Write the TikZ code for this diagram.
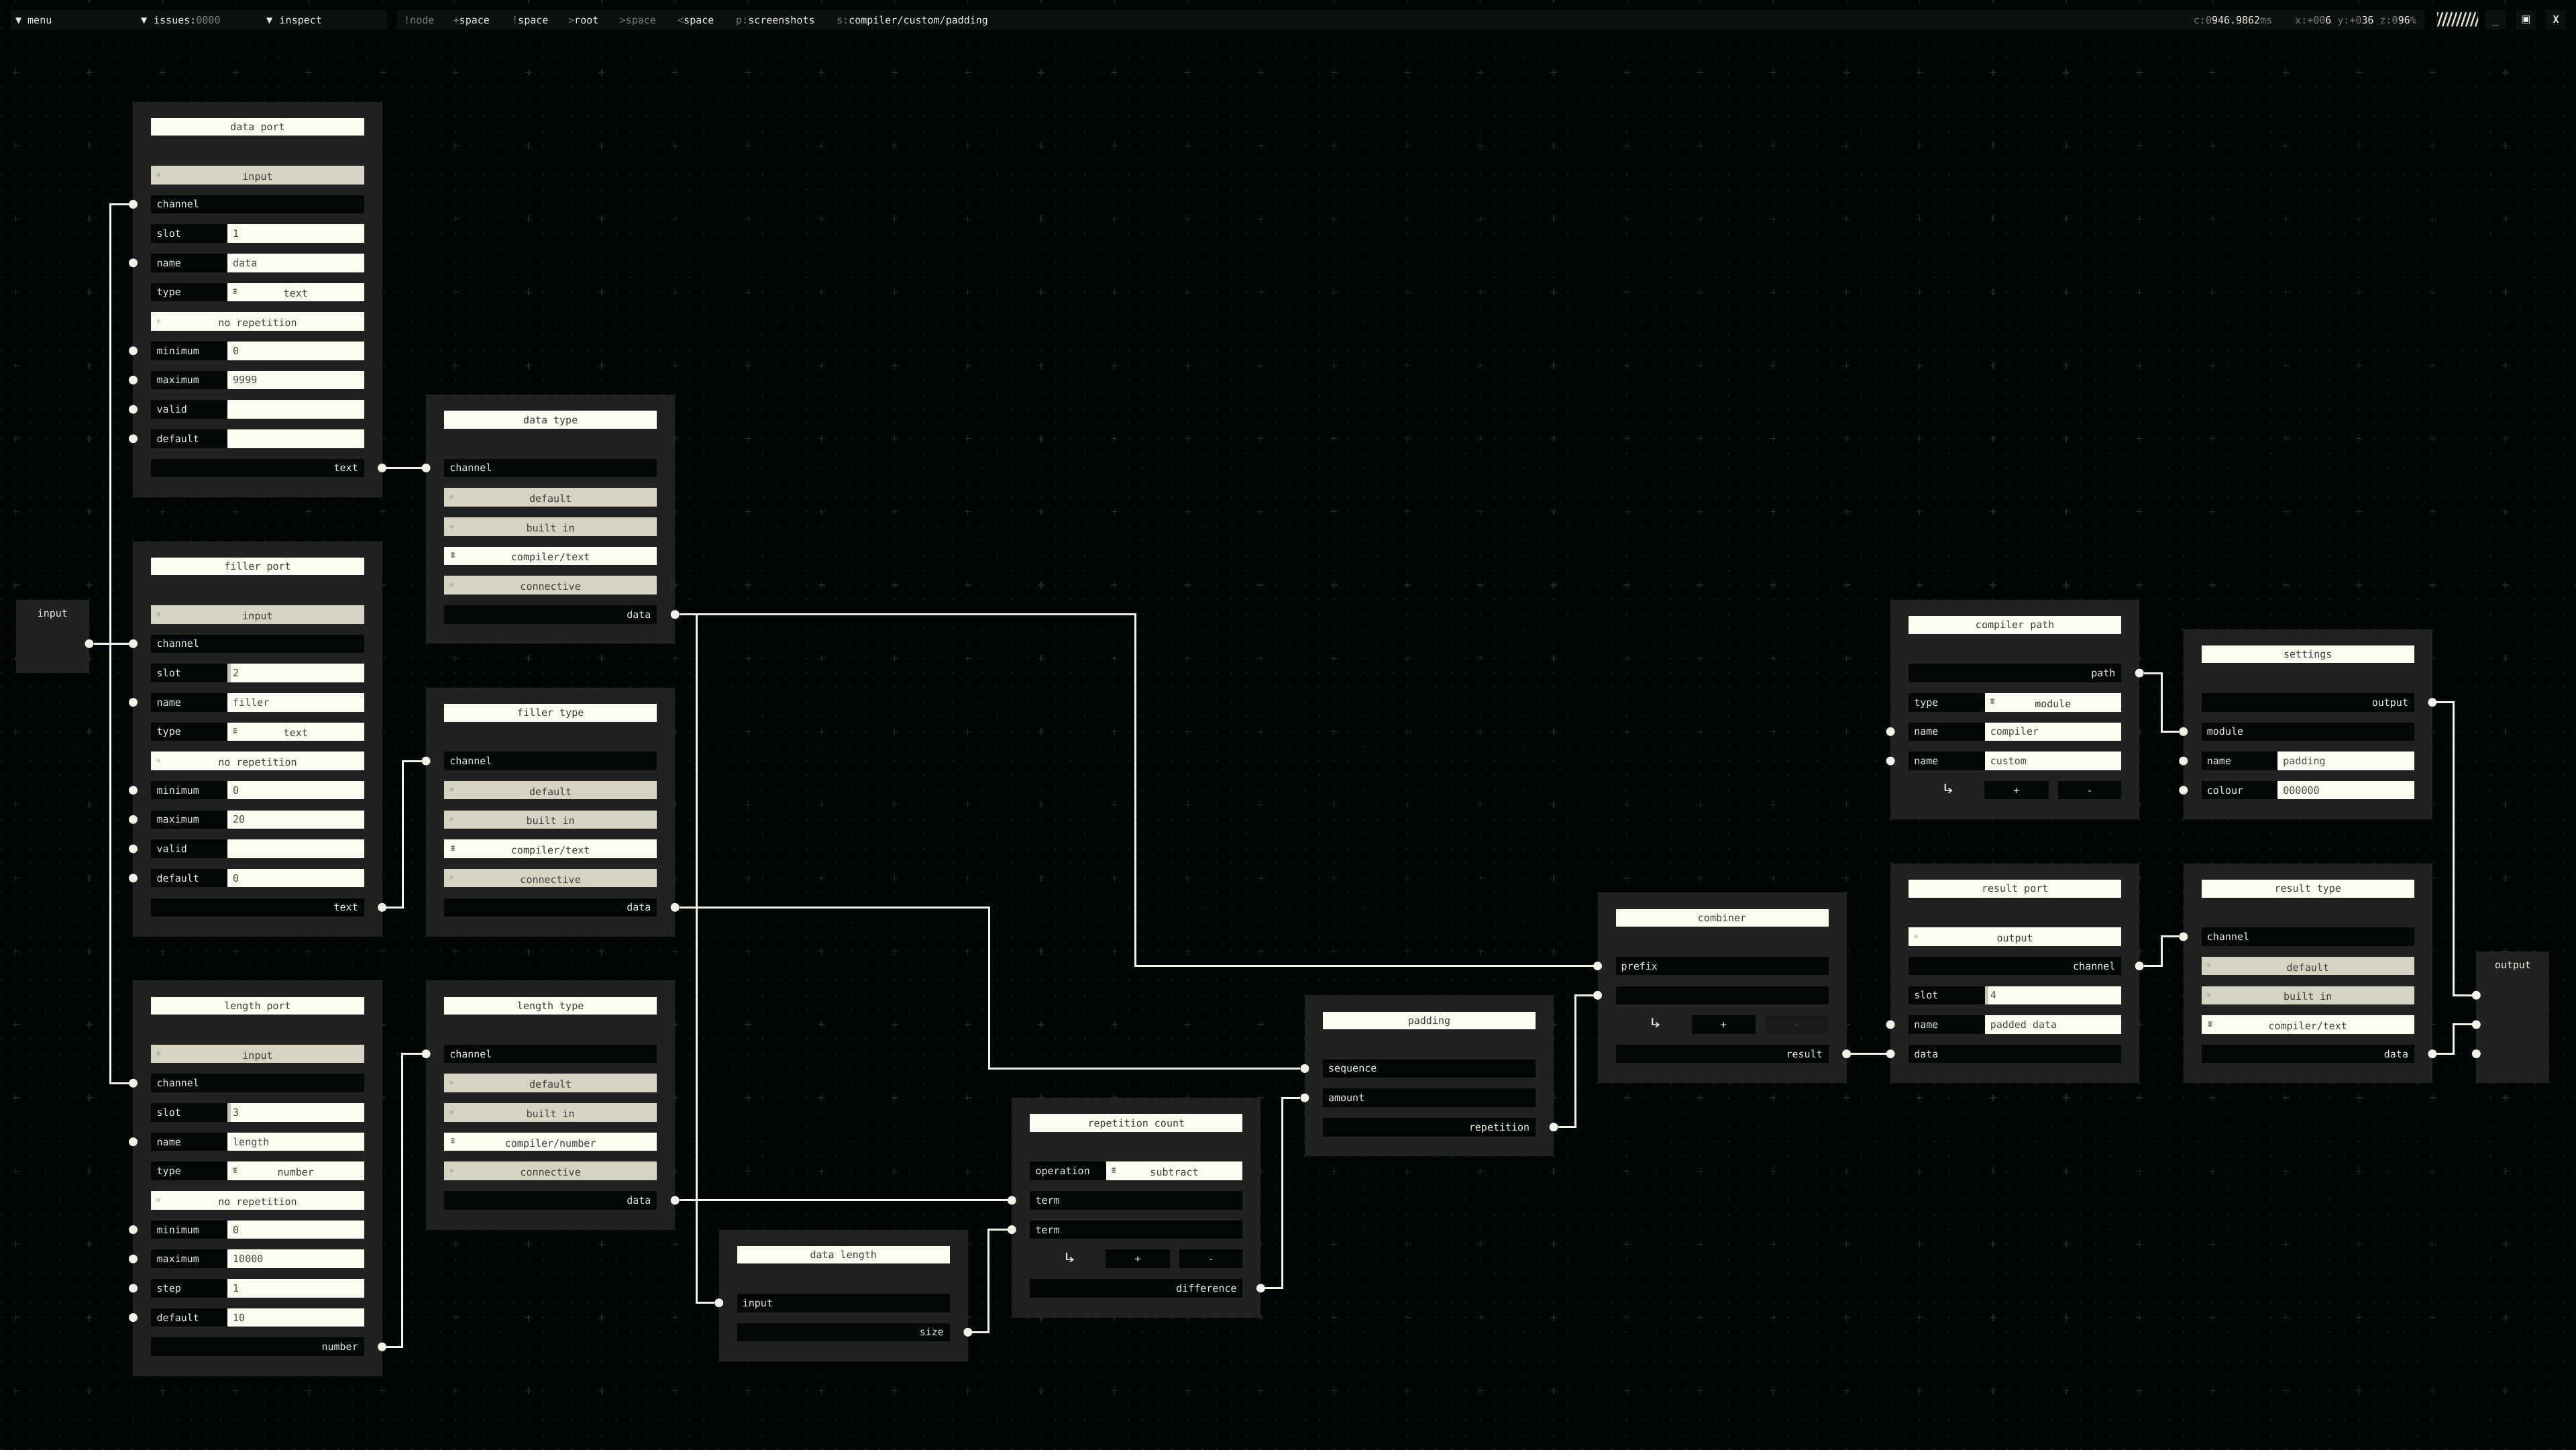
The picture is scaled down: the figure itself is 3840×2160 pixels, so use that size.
\documentclass[tikz,border=0pt]{standalone}
\usepackage{fontspec}
\newfontfamily\monofont{DejaVu Sans Mono}
\newfontfamily\symfont{DejaVu Sans}
\definecolor{bgc}{HTML}{030606}
\definecolor{barc}{HTML}{0C1010}
\definecolor{nodebg}{HTML}{212121}
\definecolor{darkrow}{HTML}{040707}
\definecolor{cream}{HTML}{FDFCF1}
\definecolor{beige}{HTML}{D6D3C3}
\definecolor{titlec}{HTML}{3C3C3C}
\definecolor{valc}{HTML}{4A4A4A}
\definecolor{lblc}{HTML}{ECEBE0}
\definecolor{wirec}{HTML}{F3F2E6}
\definecolor{gridsmall}{HTML}{1A1E1C}
\definecolor{gridbig}{HTML}{2A2921}
\definecolor{barg}{HTML}{7D7D75}
\definecolor{iconc}{HTML}{74746C}
\definecolor{disbtn}{HTML}{1A1A1A}
\definecolor{distext}{HTML}{5A5A5A}
\definecolor{stripc}{HTML}{C8C6B8}
\definecolor{hatchc}{HTML}{E6E5DA}
\newcommand\myfs{\fontsize{15}{18}\selectfont}
\tikzset{
 x=1pt, y=-1pt,
 mono/.style={font=\monofont\myfs},
 nodebox/.style={fill=nodebg, inner sep=0pt, outer sep=0pt, draw=none},
 rowrect/.style={inner sep=0pt, outer sep=0pt, draw=none, minimum height=27.6pt},
 lbl/.style={mono, text=lblc, inner sep=0pt},
 val/.style={mono, text=valc, inner sep=0pt},
 ttx/.style={mono, text=titlec, inner sep=0pt},
 sunicon/.style={inner sep=0pt, font=\symfont\fontsize{9}{10}\selectfont, text=iconc},
 eqicon/.style={inner sep=0pt, font=\symfont\fontsize{9}{10}\selectfont, text=titlec},
 arrowicon/.style={inner sep=0pt, font=\symfont\fontsize{15}{16}\selectfont, text=lblc},
 dot/.style={circle, fill=wirec, minimum size=13pt, inner sep=0pt, outer sep=0pt},
 wire/.style={draw=wirec, line width=3pt},
 barseg/.style={fill=barc, inner sep=0pt, outer sep=0pt, minimum height=29pt, anchor=north west},
 bartxt/.style={mono, text=lblc, inner sep=0pt, anchor=base west},
 tri/.style={inner sep=0pt, font=\symfont\fontsize{12}{13}\selectfont, text=lblc, anchor=base west},
}
\newcommand\eqglyph{\resizebox{7pt}{8.5pt}{≡}}
\newcommand\arglyph{\resizebox{21pt}{14pt}{↳}}
\newcommand\rowcy[1]{\pgfmathsetmacro\rcy{109.2+43.66*#1}\pgfmathsetmacro\rcyb{\rcy+5.5}\pgfmathsetmacro\rcyt{\rcy+7.5}}
\newcommand\mkbox[2]{\pgfmathsetmacro\hh{#2*21.83}%
 \node[nodebox, minimum width=371.1pt, minimum height=\hh pt, anchor=north west] (#1) at (0,0) {};}
\newcommand\mktitle[2]{%
 \node[rowrect, fill=cream, minimum width=317.1pt, minimum height=26.5pt] (#1-title) at (185.55,37.5) {};
 \node[ttx, anchor=base] (#1-titletext) at (185.55,43) {#2};}
\newcommand\rin[3]{\rowcy{#2}%
 \node[rowrect, fill=darkrow, minimum width=317.1pt, anchor=west] (#1-r#2) at (27,\rcy) {};
 \node[lbl, anchor=base west] (#1-r#2-t) at (35,\rcyb) {#3};}
\newcommand\rout[3]{\rowcy{#2}%
 \node[rowrect, fill=darkrow, minimum width=317.1pt, anchor=west] (#1-r#2) at (27,\rcy) {};
 \node[lbl, anchor=base east] (#1-r#2-t) at (335.5,\rcyb) {#3};}
\newcommand\rlv[4]{\rowcy{#2}%
 \node[rowrect, fill=darkrow, minimum width=113.5pt, anchor=west] (#1-r#2) at (27,\rcy) {};
 \node[lbl, anchor=base west] (#1-r#2-t) at (35,\rcyb) {#3};
 \node[rowrect, fill=cream, minimum width=203.6pt, anchor=west] (#1-r#2-v) at (140.5,\rcy) {};
 \node[val, anchor=base west] (#1-r#2-vt) at (148.5,\rcyb) {#4};}
\newcommand\rld[4]{\rowcy{#2}%
 \node[rowrect, fill=darkrow, minimum width=113.5pt, anchor=west] (#1-r#2) at (27,\rcy) {};
 \node[lbl, anchor=base west] (#1-r#2-t) at (35,\rcyb) {#3};
 \node[rowrect, fill=cream, minimum width=203.6pt, anchor=west] (#1-r#2-v) at (140.5,\rcy) {};
 \node[eqicon] (#1-r#2-i) at (152,\rcy) {\eqglyph};
 \node[ttx, anchor=base] (#1-r#2-vt) at (242.3,\rcyt) {#4};}
\newcommand\rtog[4]{\rowcy{#2}%
 \node[rowrect, fill=#4, minimum width=317.1pt, anchor=west] (#1-r#2) at (27,\rcy) {};
 \node[sunicon] (#1-r#2-i) at (38,\rcy) {☼};
 \node[ttx, anchor=base] (#1-r#2-t) at (185.55,\rcyt) {#3};}
\newcommand\rdrop[3]{\rowcy{#2}%
 \node[rowrect, fill=cream, minimum width=317.1pt, anchor=west] (#1-r#2) at (27,\rcy) {};
 \node[eqicon] (#1-r#2-i) at (40,\rcy) {\eqglyph};
 \node[ttx, anchor=base] (#1-r#2-t) at (185.55,\rcyt) {#3};}
\newcommand\rpm[3]{\rowcy{#2}%
 \node[arrowicon] (#1-r#2-i) at (86,\rcy-2) {\arglyph};
 \node[rowrect, fill=darkrow, minimum width=95.5pt, anchor=west] (#1-r#2-p) at (140,\rcy) {};
 \node[lbl, anchor=base] (#1-r#2-pt) at (187.75,\rcyb) {+};
 \ifnum#3=1
  \node[rowrect, fill=darkrow, minimum width=94.1pt, anchor=west] (#1-r#2-m) at (250,\rcy) {};
  \node[lbl, anchor=base] (#1-r#2-mt) at (297,\rcyb) {-};
 \else
  \node[rowrect, fill=disbtn, minimum width=94.1pt, anchor=west] (#1-r#2-m) at (250,\rcy) {};
  \node[mono, text=distext, inner sep=0pt, anchor=base] (#1-r#2-mt) at (297,\rcyb) {-};
 \fi}
\newcommand\slotstrip[2]{\rowcy{#2}%
 \node[rowrect, fill=stripc, minimum width=5pt, anchor=west] (#1-r#2-s) at (140.5,\rcy) {};}
\newcommand\din[2]{\rowcy{#2}\node[dot] (#1-r#2-in) at (0,\rcy) {};}
\newcommand\dout[2]{\rowcy{#2}\node[dot] (#1-r#2-out) at (371.1,\rcy) {};}
\begin{document}
\begin{tikzpicture}
\useasboundingbox (0,0) rectangle (3840,2160);
\fill[bgc] (-10,-10) rectangle (3850,2170);
% grid
\foreach \j in {1,...,99}{\pgfmathsetmacro\yy{-1.2+21.83*\j}
 \draw[gridsmall, line width=1pt, dash pattern=on 3pt off 18.83pt] (0.52,\yy) -- (3840,\yy);}
\foreach \i in {0,...,175}{\pgfmathsetmacro\xx{2.02+21.83*\i}
 \draw[gridsmall, line width=1pt, dash pattern=on 3pt off 18.83pt] (\xx,19.13) -- (\xx,2160);}
\foreach \i in {0,...,35}{\foreach \j in {0,...,19}{
 \pgfmathsetmacro\xx{23.85+109.15*\i}\pgfmathsetmacro\yy{-1.2+109.15*\j}
 \draw[gridbig, line width=1.2pt] (\xx-5,\yy) -- (\xx+5,\yy) (\xx,\yy-5) -- (\xx,\yy+5);}}
% top bar
\node[barseg, minimum width=561.4pt] (barL) at (15.6,15) {};
\node[barseg, minimum width=3022pt] (barR) at (592,15) {};
\node[barseg, minimum width=65pt] (bhatch) at (3631,15) {};
\node[barseg, minimum width=30pt] (bmin) at (3705,15) {};
\node[barseg, minimum width=30pt] (bmax) at (3750,15) {};
\node[barseg, minimum width=30pt] (bclose) at (3795,15) {};
\begin{scope}
\clip (3633,18.3) rectangle (3694,39.3);
\foreach \i in {0,...,10}{\draw[hatchc, line width=2.3pt] (3627+7*\i,39.3) -- (3634+7*\i,18.3);}
\end{scope}
\node[tri] (t1) at (23,34.5) {▼};
\node[bartxt] (t1t) at (41,35) {menu};
\node[tri] (t2) at (210,34.5) {▼};
\node[bartxt] (t2t) at (229,35) {issues:{\color{barg}0000}};
\node[tri] (t3) at (397,34.5) {▼};
\node[bartxt] (t3t) at (416.5,35) {inspect};
\node[bartxt] (b1) at (602,35) {{\color{barg}!node}};
\node[bartxt] (b2) at (675.5,35) {{\color{barg}+}space};
\node[bartxt] (b3) at (763,35) {{\color{barg}!}space};
\node[bartxt] (b4) at (847,35) {{\color{barg}>}root};
\node[bartxt] (b5) at (923.5,35) {{\color{barg}>space}};
\node[bartxt] (b6) at (1010,35) {{\color{barg}<}space};
\node[bartxt] (b7) at (1097,35) {{\color{barg}p:}screenshots};
\node[bartxt] (b8) at (1247,35) {{\color{barg}s:}compiler/custom/padding};
\node[bartxt] (b9) at (3269.7,35) {{\color{barg}c:0}946.9862{\color{barg}ms}};
\node[bartxt] (b10) at (3421,35) {{\color{barg}x:+00}6 {\color{barg}y:+0}36 {\color{barg}z:0}96{\color{barg}\%}};
\node[mono, text=lblc, inner sep=0pt] (bmint) at (3720,36) {\_};
\node[inner sep=0pt, font=\symfont\fontsize{15}{16}\selectfont, text=lblc] (bmaxt) at (3765.5,30) {▣};
\node[inner sep=0pt, font=\monofont\bfseries\fontsize{15}{16}\selectfont, text=lblc] (bcloset) at (3810,29.5) {X};
% input node
\begin{scope}[shift={(23.85,893.83)}]
 \node[nodebox, minimum width=109.15pt, minimum height=109.15pt, anchor=north west] (inp) at (0,0) {};
 \node[lbl, anchor=base] (inp-t) at (54.6,26) {input};
 \node[dot] (inp-out) at (109.15,65.5) {};
\end{scope}
% output node
\begin{scope}[shift={(3691.29,1417.75)}]
 \node[nodebox, minimum width=109.15pt, minimum height=196.47pt, anchor=north west] (outp) at (0,0) {};
 \node[lbl, anchor=base] (outp-t) at (54.6,26) {output};
 \node[dot] (outp-d1) at (0,65.5) {};
 \node[dot] (outp-d2) at (0,109.2) {};
 \node[dot] (outp-d3) at (0,152.8) {};
\end{scope}
% data port
\begin{scope}[shift={(23.85+21.83*8,-1.2+21.83*7)}]
 \mkbox{dp}{27}\mktitle{dp}{data port}
 \rtog{dp}{0}{input}{beige}
 \rin{dp}{1}{channel}
 \rlv{dp}{2}{slot}{1}
 \rlv{dp}{3}{name}{data}
 \rld{dp}{4}{type}{text}
 \rtog{dp}{5}{no repetition}{cream}
 \rlv{dp}{6}{minimum}{0}
 \rlv{dp}{7}{maximum}{9999}
 \rlv{dp}{8}{valid}{}
 \rlv{dp}{9}{default}{}
 \rout{dp}{10}{text}
 \din{dp}{1}\din{dp}{3}\din{dp}{6}\din{dp}{7}\din{dp}{8}\din{dp}{9}\dout{dp}{10}
\end{scope}
% filler port
\begin{scope}[shift={(23.85+21.83*8,-1.2+21.83*37)}]
 \mkbox{fp}{27}\mktitle{fp}{filler port}
 \rtog{fp}{0}{input}{beige}
 \rin{fp}{1}{channel}
 \rlv{fp}{2}{slot}{2}\slotstrip{fp}{2}
 \rlv{fp}{3}{name}{filler}
 \rld{fp}{4}{type}{text}
 \rtog{fp}{5}{no repetition}{cream}
 \rlv{fp}{6}{minimum}{0}
 \rlv{fp}{7}{maximum}{20}
 \rlv{fp}{8}{valid}{}
 \rlv{fp}{9}{default}{0}
 \rout{fp}{10}{text}
 \din{fp}{1}\din{fp}{3}\din{fp}{6}\din{fp}{7}\din{fp}{8}\din{fp}{9}\dout{fp}{10}
\end{scope}
% length port
\begin{scope}[shift={(23.85+21.83*8,-1.2+21.83*67)}]
 \mkbox{lp}{27}\mktitle{lp}{length port}
 \rtog{lp}{0}{input}{beige}
 \rin{lp}{1}{channel}
 \rlv{lp}{2}{slot}{3}\slotstrip{lp}{2}
 \rlv{lp}{3}{name}{length}
 \rld{lp}{4}{type}{number}
 \rtog{lp}{5}{no repetition}{cream}
 \rlv{lp}{6}{minimum}{0}
 \rlv{lp}{7}{maximum}{10000}
 \rlv{lp}{8}{step}{1}
 \rlv{lp}{9}{default}{10}
 \rout{lp}{10}{number}
 \din{lp}{1}\din{lp}{3}\din{lp}{6}\din{lp}{7}\din{lp}{8}\din{lp}{9}\dout{lp}{10}
\end{scope}
% data type
\begin{scope}[shift={(23.85+21.83*28,-1.2+21.83*27)}]
 \mkbox{dt}{17}\mktitle{dt}{data type}
 \rin{dt}{0}{channel}
 \rtog{dt}{1}{default}{beige}
 \rtog{dt}{2}{built in}{beige}
 \rdrop{dt}{3}{compiler/text}
 \rtog{dt}{4}{connective}{beige}
 \rout{dt}{5}{data}
 \din{dt}{0}\dout{dt}{5}
\end{scope}
% filler type
\begin{scope}[shift={(23.85+21.83*28,-1.2+21.83*47)}]
 \mkbox{ft}{17}\mktitle{ft}{filler type}
 \rin{ft}{0}{channel}
 \rtog{ft}{1}{default}{beige}
 \rtog{ft}{2}{built in}{beige}
 \rdrop{ft}{3}{compiler/text}
 \rtog{ft}{4}{connective}{beige}
 \rout{ft}{5}{data}
 \din{ft}{0}\dout{ft}{5}
\end{scope}
% length type
\begin{scope}[shift={(23.85+21.83*28,-1.2+21.83*67)}]
 \mkbox{lt}{17}\mktitle{lt}{length type}
 \rin{lt}{0}{channel}
 \rtog{lt}{1}{default}{beige}
 \rtog{lt}{2}{built in}{beige}
 \rdrop{lt}{3}{compiler/number}
 \rtog{lt}{4}{connective}{beige}
 \rout{lt}{5}{data}
 \din{lt}{0}\dout{lt}{5}
\end{scope}
% data length
\begin{scope}[shift={(23.85+21.83*48,-1.2+21.83*84)}]
 \mkbox{dl}{9}\mktitle{dl}{data length}
 \rin{dl}{0}{input}
 \rout{dl}{1}{size}
 \din{dl}{0}\dout{dl}{1}
\end{scope}
% repetition count
\begin{scope}[shift={(23.85+21.83*68,-1.2+21.83*75)}]
 \mkbox{rc}{15}\mktitle{rc}{repetition count}
 \rld{rc}{0}{operation}{subtract}
 \rin{rc}{1}{term}
 \rin{rc}{2}{term}
 \rpm{rc}{3}{1}
 \rout{rc}{4}{difference}
 \din{rc}{1}\din{rc}{2}\dout{rc}{4}
\end{scope}
% padding
\begin{scope}[shift={(23.85+21.83*88,-1.2+21.83*68)}]
 \mkbox{pd}{11}\mktitle{pd}{padding}
 \rin{pd}{0}{sequence}
 \rin{pd}{1}{amount}
 \rout{pd}{2}{repetition}
 \din{pd}{0}\din{pd}{1}\dout{pd}{2}
\end{scope}
% combiner
\begin{scope}[shift={(23.85+21.83*108,-1.2+21.83*61)}]
 \mkbox{cb}{13}\mktitle{cb}{combiner}
 \rin{cb}{0}{prefix}
 \rin{cb}{1}{}
 \rpm{cb}{2}{0}
 \rout{cb}{3}{result}
 \din{cb}{0}\din{cb}{1}\dout{cb}{3}
\end{scope}
% compiler path
\begin{scope}[shift={(23.85+21.83*128,-1.2+21.83*41)}]
 \mkbox{cp}{15}\mktitle{cp}{compiler path}
 \rout{cp}{0}{path}
 \rld{cp}{1}{type}{module}
 \rlv{cp}{2}{name}{compiler}
 \rlv{cp}{3}{name}{custom}
 \rpm{cp}{4}{1}
 \dout{cp}{0}\din{cp}{2}\din{cp}{3}
\end{scope}
% result port
\begin{scope}[shift={(23.85+21.83*128,-1.2+21.83*59)}]
 \mkbox{rp}{15}\mktitle{rp}{result port}
 \rtog{rp}{0}{output}{cream}
 \rout{rp}{1}{channel}
 \rlv{rp}{2}{slot}{4}\slotstrip{rp}{2}
 \rlv{rp}{3}{name}{padded data}
 \rin{rp}{4}{data}
 \dout{rp}{1}\din{rp}{3}\din{rp}{4}
\end{scope}
% settings
\begin{scope}[shift={(23.85+21.83*148,-1.2+21.83*43)}]
 \mkbox{st}{13}\mktitle{st}{settings}
 \rout{st}{0}{output}
 \rin{st}{1}{module}
 \rlv{st}{2}{name}{padding}
 \rlv{st}{3}{colour}{000000}
 \dout{st}{0}\din{st}{1}\din{st}{2}\din{st}{3}
\end{scope}
% result type
\begin{scope}[shift={(23.85+21.83*148,-1.2+21.83*59)}]
 \mkbox{rt}{15}\mktitle{rt}{result type}
 \rin{rt}{0}{channel}
 \rtog{rt}{1}{default}{beige}
 \rtog{rt}{2}{built in}{beige}
 \rdrop{rt}{3}{compiler/text}
 \rout{rt}{4}{data}
 \din{rt}{0}\dout{rt}{4}
\end{scope}
% connectors
\draw[wire] (inp-out) -- ++(31,0) |- (dp-r1-in);
\draw[wire] (inp-out) -- (fp-r1-in);
\draw[wire] (inp-out) -- ++(31,0) |- (lp-r1-in);
\draw[wire] (dp-r10-out) -- (dt-r0-in);
\draw[wire] (fp-r10-out) -- ++(31,0) |- (ft-r0-in);
\draw[wire] (lp-r10-out) -- ++(30,0) |- (lt-r0-in);
\draw[wire] (dt-r5-out) -- ++(686,0) |- (cb-r0-in);
\draw[wire] (dt-r5-out) -- ++(32,0) |- (dl-r0-in);
\draw[wire] (ft-r5-out) -- ++(468,0) |- (pd-r0-in);
\draw[wire] (lt-r5-out) -- (rc-r1-in);
\draw[wire] (dl-r1-out) -- ++(31,0) |- (rc-r2-in);
\draw[wire] (rc-r4-out) -- ++(32,0) |- (pd-r1-in);
\draw[wire] (pd-r2-out) -- ++(32,0) |- (cb-r1-in);
\draw[wire] (cb-r3-out) -- (rp-r4-in);
\draw[wire] (cp-r0-out) -- ++(33,0) |- (st-r1-in);
\draw[wire] (rp-r1-out) -- ++(33,0) |- (rt-r0-in);
\draw[wire] (st-r0-out) -- ++(32,0) |- (outp-d1);
\draw[wire] (rt-r4-out) -- ++(32,0) |- (outp-d2);
\end{tikzpicture}
\end{document}
